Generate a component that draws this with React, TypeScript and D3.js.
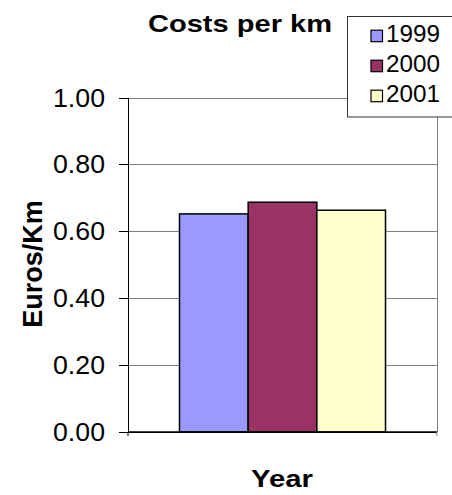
import React from "react";
import * as d3 from "d3";

const categories = [""];
const seriesNames = ["1999", "2000", "2001"];
const seriesValues = [0.653, 0.688, 0.664];
const seriesColors = ["#9999FF", "#993366", "#FFFFCC"];
const yTicks = [0, 0.2, 0.4, 0.6, 0.8, 1.0];

const W = 452;
const H = 495;
const plot = { left: 128, right: 437, top: 98, bottom: 432 };

export default function App() {
  const y = d3.scaleLinear().domain([0, 1]).range([plot.bottom, plot.top]);
  const x0 = d3
    .scaleBand<string>()
    .domain(categories)
    .range([plot.left, plot.right])
    .paddingInner(0)
    .paddingOuter(0.25);
  const groupW = x0.bandwidth();
  const x1 = d3
    .scaleBand<string>()
    .domain(seriesNames)
    .range([0, groupW])
    .padding(0);
  const fmt = d3.format(".2f");
  const font = "'Liberation Sans', Arial, sans-serif";

  return (
    <svg
      width={W}
      height={H}
      style={{ position: "absolute", left: 0, top: 0, background: "#fff" }}
      fontFamily={font}
    >
      {/* gridlines */}
      {yTicks.map((t) => (
        <line
          key={"g" + t}
          x1={plot.left}
          x2={plot.right}
          y1={y(t)}
          y2={y(t)}
          stroke={t === 0 ? "#000" : "#808080"}
          strokeWidth={1}
          shapeRendering="crispEdges"
        />
      ))}
      {/* right border */}
      <line
        x1={plot.right}
        x2={plot.right}
        y1={plot.top}
        y2={plot.bottom}
        stroke="#808080"
        shapeRendering="crispEdges"
      />
      {/* bars */}
      {categories.map((c) => {
        const gx = (x0(c) as number) + (x0.bandwidth() - groupW) / 2;
        return seriesNames.map((s, i) => (
          <rect
            key={s}
            x={gx + (x1(s) as number)}
            y={y(seriesValues[i])}
            width={x1.bandwidth()}
            height={y(0) - y(seriesValues[i])}
            fill={seriesColors[i]}
            stroke="#000"
            strokeWidth={1.5}
          />
        ));
      })}
      {/* left axis */}
      <line
        x1={plot.left}
        x2={plot.left}
        y1={plot.top}
        y2={plot.bottom}
        stroke="#000"
        shapeRendering="crispEdges"
      />
      <line
        x1={plot.left}
        x2={plot.right}
        y1={plot.bottom}
        y2={plot.bottom}
        stroke="#000"
        strokeWidth={1.5}
      />
      {yTicks.map((t) => (
        <g key={"t" + t}>
          <line
            x1={plot.left - 9}
            x2={plot.left}
            y1={y(t)}
            y2={y(t)}
            stroke="#000"
            shapeRendering="crispEdges"
          />
          <text
            x={105}
            y={y(t) + 8.5}
            textAnchor="end"
            fontSize={25}
            fill="#000"
            textLength={52}
            lengthAdjust="spacingAndGlyphs"
          >
            {fmt(t)}
          </text>
        </g>
      ))}
      {/* x tick marks */}
      <line x1={plot.left} x2={plot.left} y1={plot.bottom} y2={plot.bottom + 4} stroke="#000" />
      <line x1={plot.right} x2={plot.right} y1={plot.bottom} y2={plot.bottom + 4} stroke="#808080" />
      {/* title */}
      <text
        x={148}
        y={31.5}
        fontSize={24}
        fontWeight="bold"
        fill="#000"
        textLength={184}
        lengthAdjust="spacingAndGlyphs"
      >
        Costs per km
      </text>
      {/* axis titles */}
      <text
        x={251}
        y={487}
        fontSize={23}
        fontWeight="bold"
        fill="#000"
        textLength={62}
        lengthAdjust="spacingAndGlyphs"
      >
        Year
      </text>
      <text
        transform="translate(41.5,264) rotate(-90)"
        x={0}
        y={0}
        textAnchor="middle"
        fontSize={27}
        fontWeight="bold"
        fill="#000"
      >
        Euros/Km
      </text>
      {/* legend */}
      <rect
        x={347.5}
        y={16.5}
        width={120}
        height={100.5}
        fill="#fff"
        stroke="#333"
        strokeWidth={1}
      />
      {seriesNames.map((s, i) => {
        const baseY = 41.7 + i * 30;
        return (
          <g key={"l" + s}>
            <rect
              x={371}
              y={baseY - 11.5}
              width={11.5}
              height={11.5}
              fill={seriesColors[i]}
              stroke="#000"
              strokeWidth={1.2}
            />
            <text x={386} y={baseY} fontSize={24} fill="#000" textLength={54} lengthAdjust="spacingAndGlyphs">
              {s}
            </text>
          </g>
        );
      })}
    </svg>
  );
}
